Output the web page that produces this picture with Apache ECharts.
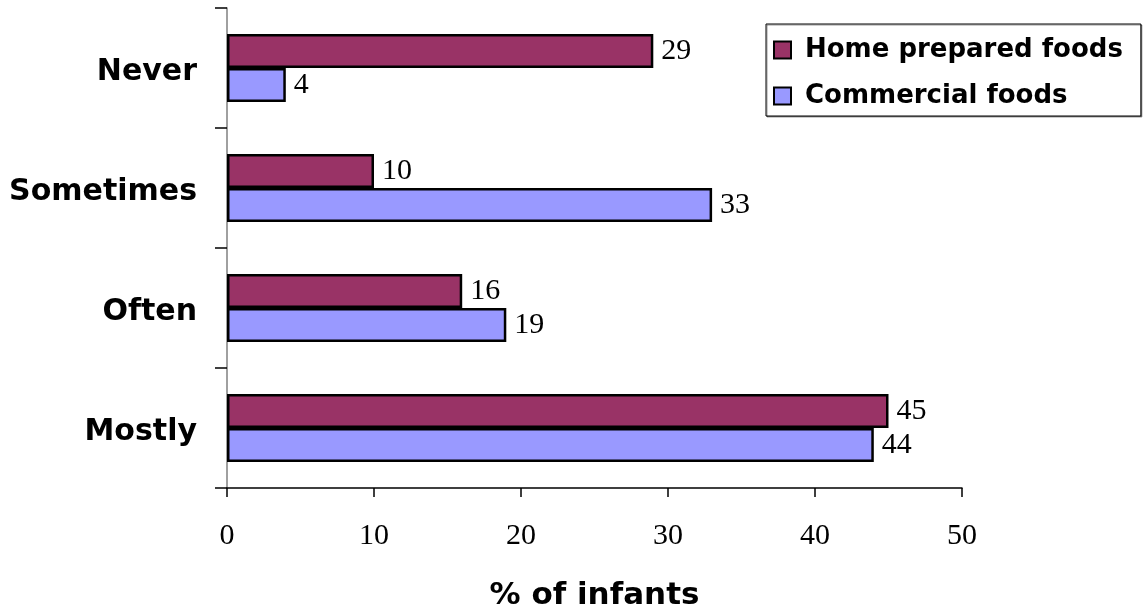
<!DOCTYPE html>
<html>
<head>
<meta charset="utf-8">
<script src="https://cdn.jsdelivr.net/npm/echarts@6/dist/echarts.min.js"></script>
<style>
  html, body { margin: 0; padding: 0; background: #fff; }
  #container { width: 1144px; height: 610px; }
</style>
</head>
<body>
<div id="container"></div>
<script>
const categories = ['Never', 'Sometimes', 'Often', 'Mostly'];
const homePrepared = [29, 10, 16, 45];
const commercial = [4, 33, 19, 44];
const xTicks = [0, 10, 20, 30, 40, 50];

const chart = echarts.init(document.getElementById('container'));

const labelStyle = {
  show: true,
  position: 'right',
  distance: 8,
  color: '#000',
  fontFamily: '"Liberation Serif", "Times New Roman", serif',
  fontSize: 30,
};

const catFont = {
  color: '#000',
  fontFamily: '"DejaVu Sans", Verdana, sans-serif',
  fontWeight: 'bold',
  fontSize: 30,
};

const option = {
  animation: false,
  backgroundColor: '#fff',
  grid: { left: 227, right: 182, top: 8, bottom: 122, containLabel: false, outerBoundsMode: 'none' },
  legend: {
    orient: 'vertical',
    left: 766,
    top: 24,
    padding: [13, 18, 7, 7],
    itemGap: 20,
    itemWidth: 17,
    itemHeight: 17,
    icon: 'rect',
    borderColor: '#000',
    borderWidth: 1,
    backgroundColor: '#fff',
    shadowColor: 'rgba(0,0,0,0.4)',
    shadowOffsetX: 1,
    shadowOffsetY: 1,
    itemStyle: { borderColor: '#000', borderWidth: 2 },
    textStyle: {
      color: '#000',
      fontFamily: '"DejaVu Sans", Verdana, sans-serif',
      fontWeight: 'bold',
      fontSize: 26,
      padding: [0, 0, 0, 9],
    },
    data: ['Home prepared foods', 'Commercial foods'],
  },
  xAxis: {
    type: 'value',
    min: xTicks[0],
    max: xTicks[xTicks.length - 1],
    interval: 10,
    name: '% of infants',
    nameLocation: 'middle',
    nameGap: 92,
    nameTextStyle: {
      color: '#000',
      fontFamily: '"DejaVu Sans", Verdana, sans-serif',
      fontWeight: 'bold',
      fontSize: 31,
    },
    axisLine: { show: true, lineStyle: { color: '#000', width: 1.5 } },
    axisTick: { show: true, length: 9, lineStyle: { color: '#000', width: 1.5 } },
    axisLabel: {
      margin: 33,
      color: '#000',
      fontFamily: '"Liberation Serif", "Times New Roman", serif',
      fontSize: 30,
    },
    splitLine: { show: false },
  },
  yAxis: {
    type: 'category',
    inverse: true,
    data: categories,
    axisLine: { show: true, lineStyle: { color: '#808080', width: 1.5 } },
    axisTick: { show: true, length: 12, lineStyle: { color: '#000', width: 1.5 } },
    axisLabel: {
      margin: 30,
      formatter: (v) => '{c|' + v + '}',
      rich: { c: Object.assign({ padding: [8, 0, 0, 0] }, catFont) },
      ...catFont,
    },
  },
  series: [
    {
      name: 'Home prepared foods',
      type: 'bar',
      data: homePrepared,
      barWidth: 34,
      barGap: '0%',
      itemStyle: { color: '#993366', borderColor: '#000', borderWidth: 2.5 },
      label: labelStyle,
    },
    {
      name: 'Commercial foods',
      type: 'bar',
      data: commercial,
      barWidth: 34,
      barGap: '0%',
      itemStyle: { color: '#9999ff', borderColor: '#000', borderWidth: 2.5 },
      label: labelStyle,
    },
  ],
};

chart.setOption(option);
</script>
</body>
</html>
